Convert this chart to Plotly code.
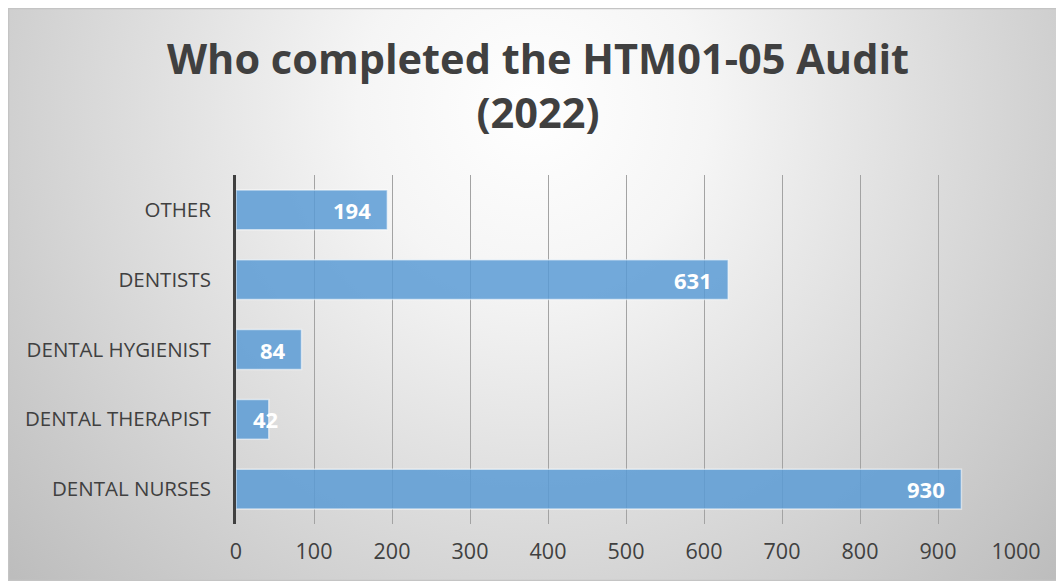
import base64
import plotly.graph_objects as go

# ---- data ----
categories = ["DENTAL NURSES", "DENTAL THERAPIST", "DENTAL HYGIENIST", "DENTISTS", "OTHER"]
values = [930, 42, 84, 631, 194]
x_ticks = [0, 100, 200, 300, 400, 500, 600, 700, 800, 900, 1000]
title_text = "Who completed the HTM01-05 Audit<br>(2022)"

# ---- layout geometry (figure coords; page adds an 8px body margin) ----
W, H = 1056, 575
ml, mr, mt, mb = 228, 48, 167, 59
pw, ph = W - ml - mr, H - mt - mb

# background: radial gradient panel with light border
bx0, by0, bx1, by1 = 0, 0, 1056, 573
bw, bh = bx1 - bx0, by1 - by0
svg = f"""<svg xmlns='http://www.w3.org/2000/svg' width='{bw}' height='{bh}' viewBox='0 0 {bw} {bh}'>
<defs><radialGradient id='g' gradientUnits='userSpaceOnUse' cx='525' cy='100' r='700'>
<stop offset='0' stop-color='#ffffff'/><stop offset='0.25' stop-color='#f5f5f5'/>
<stop offset='1' stop-color='#bdbdbd'/></radialGradient></defs>
<rect x='0' y='0' width='{bw}' height='{bh}' fill='url(#g)'/>
<rect x='0.5' y='0.5' width='{bw-1}' height='{bh-1}' fill='none' stroke='#c4c4c4' stroke-width='1.5'/>
</svg>"""
src = "data:image/svg+xml;base64," + base64.b64encode(svg.encode()).decode()

FONT = "Open Sans"
TXT = "#404040"

fig = go.Figure()
fig.add_trace(go.Bar(
    y=categories, x=values, orientation="h",
    marker=dict(color="rgba(91,155,213,0.85)",
                line=dict(color="rgba(255,255,255,0.55)", width=1.5)),
    hoverinfo="x+y",
))

# data labels (inside end; if too narrow, start-anchored like Excel)
px_per_unit = pw / 1000
annotations = []
for c, v in zip(categories, values):
    label = str(v)
    tw = 12.5 * len(label)
    if v * px_per_unit >= tw + 30:
        annotations.append(dict(x=v, y=c, xref="x", yref="y", text=f"<b>{label}</b>",
                                showarrow=False, xanchor="right", xshift=-14,
                                font=dict(family=FONT, size=22, color="white")))
    else:
        annotations.append(dict(x=0, y=c, xref="x", yref="y", text=f"<b>{label}</b>",
                                showarrow=False, xanchor="left", xshift=15,
                                font=dict(family=FONT, size=22, color="white")))

annotations.append(dict(text=f"<b>{title_text}</b>", xref="paper", yref="paper",
                        x=(530 - ml) / pw, y=1 + (mt - 77) / ph, xanchor="center",
                        yanchor="middle", showarrow=False, align="center",
                        font=dict(family=FONT, size=41.5, color=TXT)))

fig.update_layout(
    width=W, height=H,
    margin=dict(l=ml, r=mr, t=mt, b=mb, pad=0),
    paper_bgcolor="white", plot_bgcolor="rgba(0,0,0,0)",
    showlegend=False, bargap=0.43,
    annotations=annotations,
    images=[dict(source=src, xref="paper", yref="paper",
                 x=(bx0 - ml) / pw, y=1 + (mt - by0) / ph,
                 sizex=bw / pw, sizey=bh / ph, sizing="stretch",
                 xanchor="left", yanchor="top", layer="below")],
    xaxis=dict(range=[0, 1000], tickvals=x_ticks, showgrid=True,
               gridcolor="#a3a3a3", gridwidth=1.3, zeroline=False, showline=False,
               ticks="", ticklabelstandoff=12,
               tickfont=dict(family=FONT, size=21.5, color=TXT), fixedrange=True),
    yaxis=dict(showline=True, linecolor="#404040", linewidth=3, showgrid=False,
               ticks="", ticklabelstandoff=18,
               tickfont=dict(family=FONT, size=20.5, color=TXT), fixedrange=True),
)

fig.write_html("out.html")
